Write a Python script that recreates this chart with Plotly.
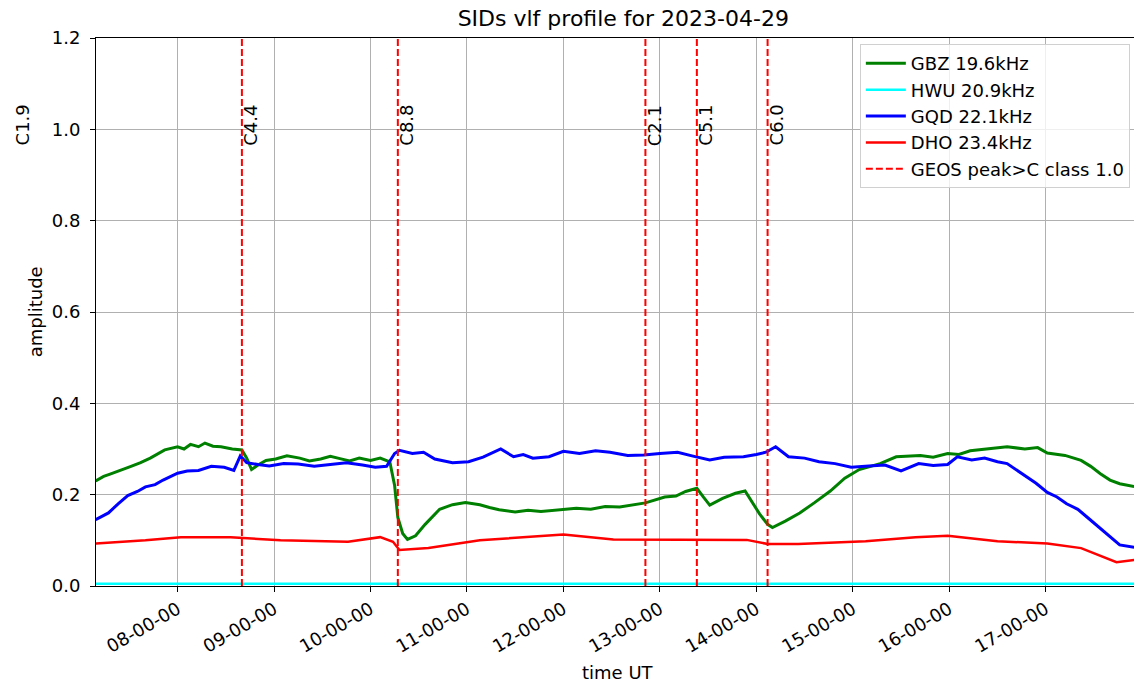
import pandas as pd
import plotly.graph_objs as go

DAY = '2023-04-29'

# GBZ 19.6kHz (green)
gbz_time = ['07:09', '07:14', '07:18', '07:25', '07:31', '07:37', '07:43', '07:52', '08:00', '08:04',
            '08:08', '08:13', '08:17', '08:22', '08:27', '08:34', '08:40', '08:43', '08:46', '08:50',
            '08:55', '09:01', '09:08', '09:16', '09:22', '09:29', '09:35', '09:41', '09:47', '09:53',
            '10:00', '10:06', '10:12', '10:15', '10:17', '10:20', '10:23', '10:28', '10:34', '10:43',
            '10:51', '10:59', '11:08', '11:14', '11:20', '11:30', '11:38', '11:46', '12:00', '12:08',
            '12:17', '12:26', '12:35', '12:43', '12:51', '13:03', '13:10', '13:16', '13:23', '13:27',
            '13:31', '13:39', '13:47', '13:53', '13:57', '14:02', '14:07', '14:10', '14:18', '14:27',
            '14:36', '14:46', '14:55', '15:04', '15:17', '15:27', '15:42', '15:50', '15:59', '16:06',
            '16:13', '16:25', '16:36', '16:47', '16:55', '17:01', '17:12', '17:22', '17:28', '17:34',
            '17:40', '17:46', '17:55']
gbz_amp = [0.230, 0.240, 0.245, 0.255, 0.262, 0.270, 0.280, 0.298, 0.305, 0.300,
           0.310, 0.305, 0.313, 0.306, 0.305, 0.300, 0.298, 0.280, 0.255, 0.265,
           0.275, 0.278, 0.285, 0.280, 0.274, 0.278, 0.284, 0.279, 0.274, 0.280,
           0.275, 0.280, 0.272, 0.220, 0.150, 0.115, 0.102, 0.110, 0.135, 0.168,
           0.178, 0.183, 0.178, 0.172, 0.167, 0.162, 0.166, 0.163, 0.167, 0.170,
           0.168, 0.174, 0.173, 0.178, 0.182, 0.195, 0.197, 0.207, 0.214, 0.195,
           0.177, 0.192, 0.203, 0.208, 0.185, 0.158, 0.135, 0.128, 0.142, 0.160,
           0.182, 0.208, 0.236, 0.255, 0.268, 0.283, 0.286, 0.282, 0.290, 0.288,
           0.296, 0.301, 0.305, 0.300, 0.303, 0.291, 0.286, 0.275, 0.262, 0.246,
           0.232, 0.224, 0.218]

# HWU 20.9kHz (cyan)
hwu_time = ['07:09', '10:00', '13:00', '16:00', '17:55']
hwu_amp = [0.005, 0.005, 0.005, 0.005, 0.005]

# GQD 22.1kHz (blue)
gqd_time = ['07:09', '07:13', '07:17', '07:23', '07:29', '07:35', '07:40', '07:46', '07:51', '08:00',
            '08:06', '08:13', '08:21', '08:29', '08:35', '08:39', '08:43', '08:50', '08:57', '09:06',
            '09:15', '09:25', '09:35', '09:45', '09:55', '10:03', '10:10', '10:15', '10:18', '10:26',
            '10:33', '10:40', '10:51', '11:01', '11:10', '11:21', '11:29', '11:35', '11:41', '11:51',
            '12:00', '12:10', '12:20', '12:29', '12:40', '12:50', '13:00', '13:11', '13:20', '13:31',
            '13:40', '13:52', '14:00', '14:06', '14:12', '14:20', '14:30', '14:39', '14:49', '14:59',
            '15:10', '15:20', '15:30', '15:41', '15:50', '15:59', '16:05', '16:14', '16:22', '16:30',
            '16:36', '16:47', '16:54', '17:01', '17:07', '17:13', '17:20', '17:26', '17:32', '17:38',
            '17:46', '17:55']
gqd_amp = [0.145, 0.152, 0.160, 0.180, 0.198, 0.207, 0.217, 0.222, 0.232, 0.247,
           0.252, 0.253, 0.262, 0.260, 0.253, 0.285, 0.270, 0.266, 0.263, 0.268,
           0.267, 0.262, 0.266, 0.270, 0.265, 0.260, 0.262, 0.290, 0.297, 0.290,
           0.293, 0.278, 0.270, 0.272, 0.282, 0.300, 0.283, 0.288, 0.280, 0.283,
           0.295, 0.290, 0.296, 0.293, 0.286, 0.287, 0.290, 0.293, 0.285, 0.276,
           0.282, 0.283, 0.288, 0.293, 0.305, 0.283, 0.280, 0.272, 0.268, 0.260,
           0.263, 0.265, 0.252, 0.268, 0.264, 0.266, 0.283, 0.276, 0.280, 0.272,
           0.268, 0.242, 0.225, 0.205, 0.195, 0.180, 0.168, 0.150, 0.132, 0.115,
           0.090, 0.085]

# DHO 23.4kHz (red)
dho_time = ['07:09', '07:40', '08:02', '08:33', '09:04', '09:46', '10:06', '10:14', '10:18', '10:36',
            '11:08', '12:00', '12:31', '13:13', '13:54', '14:07', '14:26', '15:08', '15:39', '15:59',
            '16:30', '17:01', '17:22', '17:44', '17:55']
dho_amp = [0.093, 0.100, 0.107, 0.107, 0.100, 0.097, 0.107, 0.097, 0.079, 0.083,
           0.100, 0.113, 0.102, 0.101, 0.101, 0.092, 0.092, 0.098, 0.107, 0.110,
           0.098, 0.093, 0.083, 0.052, 0.057]

# GOES flares above C1.0
flare_time = ['06:18', '08:40', '10:17', '12:51', '13:23', '14:07']
flare_class = ['C1.9', 'C4.4', 'C8.8', 'C2.1', 'C5.1', 'C6.0']

x_start = pd.Timestamp(f'{DAY} 07:09:15')
x_end = pd.Timestamp(f'{DAY} 17:54:55')

FS = 18


def stamps(times):
    return [pd.Timestamp(f'{DAY} {t}') for t in times]


series = [
    ('GBZ 19.6kHz', gbz_time, gbz_amp, 'green', 3),
    ('HWU 20.9kHz', hwu_time, hwu_amp, 'cyan', 2.5),
    ('GQD 22.1kHz', gqd_time, gqd_amp, 'blue', 3),
    ('DHO 23.4kHz', dho_time, dho_amp, 'red', 2.5),
]

fig = go.Figure()

for name, times, amps, color, width in series:
    fig.add_trace(go.Scatter(
        x = stamps(times), y = amps, name = name, mode = 'lines',
        line = dict(color = color, width = width), legendgroup = name,
    ))

# vertical dashed flare markers, one trace with gaps
fx, fy = [], []
for t in stamps(flare_time):
    fx += [t, t, None]
    fy += [0, 1.2, None]
fig.add_trace(go.Scatter(
    x = fx, y = fy, mode = 'lines', name = 'GEOS peak>C class 1.0',
    line = dict(color = '#ff0000', width = 2, dash = '7px,3px'),
    legendgroup = 'geos',
))

span = (x_end - x_start).total_seconds()
for t, label in zip(stamps(flare_time), flare_class):
    fig.add_annotation(
        x = (t - x_start).total_seconds() / span, xref = 'paper',
        y = 1.0, yref = 'y', text = label, textangle = -90,
        showarrow = False, xanchor = 'left', yanchor = 'middle', xshift = -4, yshift = 4,
        font = dict(size = FS, color = 'black'),
    )

fig.add_annotation(x = -0.0585, y = 0.5, xref = 'paper', yref = 'paper', text = 'amplitude',
                   textangle = -90, showarrow = False, xanchor = 'center', yanchor = 'middle',
                   font = dict(size = FS, color = 'black'))
fig.add_annotation(x = 0.503, y = -0.157, xref = 'paper', yref = 'paper', text = 'time UT',
                   showarrow = False, xanchor = 'center', yanchor = 'middle',
                   font = dict(size = FS, color = 'black'))

fig.update_layout(
    width = 1134, height = 685,
    margin = dict(l = 96, r = 0, t = 38, b = 99),
    paper_bgcolor = 'white', plot_bgcolor = 'white',
    font = dict(family = 'DejaVu Sans', size = FS, color = 'black'),
    title = dict(text = 'SIDs vlf profile for 2023-04-29', x = 0.508, xref = 'paper',
                 xanchor = 'center', y = 0.9737, yref = 'container', yanchor = 'middle',
                 font = dict(size = 22)),
    showlegend = True,
    legend = dict(x = 0.996, y = 0.989, xanchor = 'right', yanchor = 'top',
                  bgcolor = 'rgba(255,255,255,0.8)', bordercolor = '#d0d0d0', borderwidth = 1,
                  tracegroupgap = 0, itemwidth = 40, font = dict(size = FS)),
    xaxis = dict(
        type = 'date', range = [x_start, x_end],
        tick0 = f'{DAY} 08:00:00', dtick = 3600000, tickformat = '%H-%M-%S',
        tickangle = -30, ticks = 'outside', ticklen = 5, tickcolor = 'black',
        showgrid = True, gridcolor = '#b0b0b0', gridwidth = 1,
        showline = True, linecolor = 'black', linewidth = 1, mirror = True,
        zeroline = False,
    ),
    yaxis = dict(
        range = [0, 1.2], dtick = 0.2, tickformat = '.1f',
        ticks = 'outside', ticklen = 5, tickcolor = 'black', ticklabelstandoff = 6,
        showgrid = True, gridcolor = '#b0b0b0', gridwidth = 1,
        showline = True, linecolor = 'black', linewidth = 1,
        zeroline = False,
    ),
)

# drop the default page margin so the figure fills the window exactly
fig.write_html('out.html', config = {'displayModeBar': False},
               post_script = "document.body.style.margin = '0';")
